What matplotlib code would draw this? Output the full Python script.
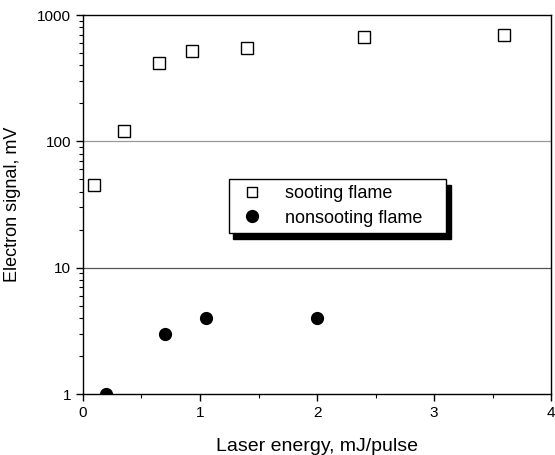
import matplotlib
matplotlib.use("Agg")
import matplotlib.pyplot as plt
from matplotlib.ticker import FixedLocator, LogLocator, NullFormatter, FixedFormatter

plt.rcParams['font.family'] = ['Liberation Sans', 'DejaVu Sans']

sooting_x = [0.09, 0.35, 0.65, 0.93, 1.40, 2.40, 3.60]
sooting_y = [45, 120, 415, 515, 545, 675, 700]
nonsooting_x = [0.20, 0.70, 1.05, 2.00]
nonsooting_y = [1.0, 3.0, 4.0, 4.0]
x_ticks = [0, 1, 2, 3, 4]
y_ticks = [1, 10, 100, 1000]
y_tick_labels = ["1", "10", "100", "1000"]

fig = plt.figure(figsize=(5.55, 4.55), dpi=100)
ax = fig.add_axes([0.1495, 0.134, 0.8435, 0.833])
ax.set_yscale('log')
ax.set_xlim(0, 4)
ax.set_ylim(1, 1000)

for yv, c in [(10, '#555555'), (100, '#999999')]:
    ax.axhline(yv, color=c, lw=0.9, zorder=1)

ax.plot(sooting_x, sooting_y, linestyle='none', marker='s', ms=8.5,
        mfc='white', mec='black', mew=1.0, label='sooting flame', zorder=3)
ax.plot(nonsooting_x, nonsooting_y, linestyle='none', marker='o', ms=8.5,
        mfc='black', mec='black', label='nonsooting flame', zorder=3)

ax.xaxis.set_major_locator(FixedLocator(x_ticks))
ax.xaxis.set_minor_locator(FixedLocator([0.5, 1.5, 2.5, 3.5]))
ax.yaxis.set_major_locator(FixedLocator(y_ticks))
ax.yaxis.set_major_formatter(FixedFormatter(y_tick_labels))
ax.yaxis.set_minor_locator(LogLocator(base=10, subs=range(2, 10)))
ax.yaxis.set_minor_formatter(NullFormatter())
ax.tick_params(which='major', direction='out', length=5, width=1, labelsize=11)
ax.tick_params(which='minor', direction='out', length=3, width=0.8)
for s in ax.spines.values():
    s.set_linewidth(1.0)

ax.set_xlabel('Laser energy, mJ/pulse', fontsize=14, labelpad=13)
ax.set_ylabel('Electron signal, mV', fontsize=13, labelpad=12)

leg = ax.legend(loc='upper left', bbox_to_anchor=(0.311, 0.3, 0.465, 0.267),
                mode='expand', fontsize=13,
                frameon=True, fancybox=False,
                shadow={'color': 'black', 'alpha': 1, 'ox': 3.5, 'oy': -4.5},
                edgecolor='black', framealpha=1, borderpad=0.35, handletextpad=0.8,
                labelspacing=0.4, handlelength=1.95, borderaxespad=0)
leg.get_frame().set_linewidth(1.0)
leg.legend_handles[0].set_markersize(7)

fig.savefig('out.png', dpi=100)
